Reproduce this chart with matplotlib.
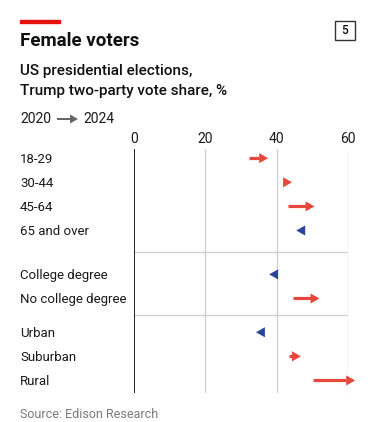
import matplotlib
matplotlib.use("Agg")
import matplotlib.pyplot as plt
import matplotlib.transforms as mtrans
from matplotlib.patches import Polygon, Rectangle

plt.rcParams['font.family'] = ['Roboto', 'DejaVu Sans']

# data
groups = [
    ["18-29", "30-44", "45-64", "65 and over"],
    ["College degree", "No college degree"],
    ["Urban", "Suburban", "Rural"],
]
share_2020 = [32.3, 42.0, 43.3, 48.0, 40.4, 44.5, 36.6, 43.4, 50.1]
share_2024 = [37.6, 44.3, 50.6, 45.5, 37.9, 52.0, 34.2, 46.8, 62.0]
xticks = [0, 20, 40, 60]

red = "#e8483c"
blue = "#2b449c"
grid_col = "#d2d2d2"

# row positions, with extra space between groups
group_gaps = [0, 0.82, 0.40]
labels, ypos = [], []
y = 0
for gi, g in enumerate(groups):
    y += group_gaps[gi]
    for lab in g:
        labels.append(lab)
        ypos.append(y)
        y += 1
ypos_sep = []
start = 0
for g in groups[:-1]:
    start += len(g)
    ypos_sep.append((ypos[start - 1] + ypos[start]) / 2)

W, H = 384, 422
fig = plt.figure(figsize=(W / 100, H / 100), dpi=100)

# axes placed in pixel coordinates
ax_l, ax_r, ax_t, ax_b = 134, 348, 149, 393
ax = fig.add_axes([ax_l / W, 1 - ax_b / H, (ax_r - ax_l) / W, (ax_b - ax_t) / H])
ax.set_xlim(0, 60)
ax.set_ylim(ypos[-1] + 0.52, ypos[0] - 0.38)
for s in ax.spines.values():
    s.set_visible(False)
ax.xaxis.tick_top()
ax.set_xticks(xticks)
ax.set_xticklabels([str(t) for t in xticks])
ax.tick_params(axis="x", length=0, pad=2, labelsize=10, colors="#1a1a1a")
ax.set_yticks([])

for t in xticks[1:]:
    ax.axvline(t, color=grid_col, lw=1.0, zorder=0)
for ys in ypos_sep:
    ax.axhline(ys, color=grid_col, lw=1.0, zorder=0)
ax.axvline(0, color="#111111", lw=1.3, zorder=3)

# arrows
head_len = 2.5   # data units
head_half = 0.21  # row units
for x0, x1, yy in zip(share_2020, share_2024, ypos):
    c = red if x1 > x0 else blue
    d = 1 if x1 > x0 else -1
    base = x1 - d * head_len
    if (base - x0) * d > 0:
        ax.plot([x0, base], [yy, yy], color=c, lw=2.3, solid_capstyle="butt",
                clip_on=False, zorder=4)
    tri = Polygon([[x1, yy], [base, yy - head_half], [base, yy + head_half]],
                  closed=True, color=c, lw=0, clip_on=False, zorder=5)
    ax.add_patch(tri)

# row labels: x in figure coords, y in data coords
label_tr = mtrans.blended_transform_factory(fig.transFigure, ax.transData)
for lab, yy in zip(labels, ypos):
    ax.text(20 / W, yy, lab, transform=label_tr, fontsize=9.5,
            va="center_baseline", ha="left", color="#1a1a1a")

# header
fig.patches.append(Rectangle((20 / W, 1 - 23 / H), 40 / W, 3.5 / H,
                             transform=fig.transFigure, color="#e3120b"))
fig.text(20 / W, 1 - 41 / H, "Female voters", fontsize=13.5, fontweight="bold",
         va="center", ha="left", color="#111111")
fig.text(20 / W, 1 - 71 / H, "US presidential elections,", fontsize=11,
         fontweight="medium", va="center", ha="left", color="#111111")
fig.text(20 / W, 1 - 91 / H, "Trump two-party vote share, %", fontsize=11,
         fontweight="medium", va="center", ha="left", color="#111111")
fig.text(20 / W, 1 - 119 / H, "2020", fontsize=10, va="center", ha="left", color="#1a1a1a")
fig.text(83 / W, 1 - 119 / H, "2024", fontsize=10, va="center", ha="left", color="#1a1a1a")
fig.patches.append(Polygon([[57 / W, 1 - 118 / H], [70 / W, 1 - 118 / H],
                            [70 / W, 1 - 114.5 / H], [78 / W, 1 - 119 / H],
                            [70 / W, 1 - 123.5 / H], [70 / W, 1 - 120 / H],
                            [57 / W, 1 - 120 / H]],
                           closed=True, transform=fig.transFigure, color="#666666", lw=0))

# page number box
fig.patches.append(Rectangle((335 / W, 1 - 40 / H), 20 / W, 19 / H, transform=fig.transFigure,
                             fill=False, ec="#333333", lw=1.0))
fig.text(345 / W, 1 - 30.5 / H, "5", fontsize=8.5, fontweight="medium", va="center",
         ha="center", color="#111111")

fig.text(20 / W, 1 - 414 / H, "Source: Edison Research", fontsize=9, va="center",
         ha="left", color="#7a7a7a")

fig.savefig("out.png", dpi=100)
